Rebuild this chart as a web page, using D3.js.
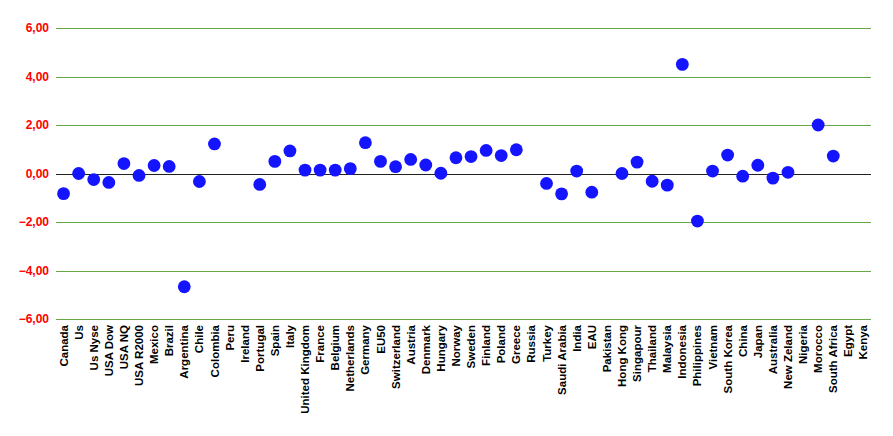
<!DOCTYPE html>
<html><head><meta charset="utf-8">
<script src="https://cdn.jsdelivr.net/npm/d3@7"></script>
<style>body{margin:0;background:#fff}svg{display:block}</style>
</head><body>
<svg id="chart" width="893" height="436"></svg>
<script>
const categories = ["Canada","Us","Us Nyse","USA Dow","USA NQ","USA R2000","Mexico","Brazil","Argentina","Chile","Colombia","Peru","Ireland","Portugal","Spain","Italy","United Kingdom","France","Belgium","Netherlands","Germany","EU50","Switzerland","Austria","Denmark","Hungary","Norway","Sweden","Finland","Poland","Greece","Russia","Turkey","Saudi Arabia","India","EAU","Pakistan","Hong Kong","Singapour","Thailand","Malaysia","Indonesia","Philippines","Vietnam","South Korea","China","Japan","Australia","New Zeland","Nigeria","Morocco","South Africa","Egypt","Kenya"];
const values = [-0.83,0.0,-0.25,-0.37,0.41,-0.08,0.33,0.29,-4.67,-0.33,1.22,null,null,-0.45,0.50,0.93,0.14,0.14,0.14,0.20,1.27,0.50,0.28,0.58,0.35,0.01,0.65,0.70,0.95,0.74,0.98,null,-0.41,-0.84,0.10,-0.77,null,0.0,0.47,-0.32,-0.48,4.50,-1.96,0.10,0.76,-0.11,0.34,-0.19,0.05,null,2.00,0.72,null,null];
const yTicks = [-6,-4,-2,0,2,4,6];

(function () {
const svg = d3.select("#chart");
const mLeft = 56, mRight = 871, mTop = 28, mBottom = 319;
const x = d3.scaleBand().domain(categories).range([mLeft, mRight]);
const y = d3.scaleLinear().domain([-6, 6]).range([mBottom, mTop]);
const fmt = v => d3.format(".2f")(v).replace(".", ",");

// gridlines
svg.append("g").selectAll("line").data(yTicks).join("line")
  .attr("x1", mLeft).attr("x2", mRight)
  .attr("y1", d => Math.round(y(d)) + 0.5).attr("y2", d => Math.round(y(d)) + 0.5)
  .attr("stroke", d => d === 0 ? "#222" : "#66a844").attr("stroke-width", 1);

// y axis labels
const yAxis = d3.axisLeft(y).tickValues(yTicks).tickFormat(fmt).tickSize(0).tickPadding(7);
const gy = svg.append("g").attr("transform", `translate(${mLeft},0)`).call(yAxis);
gy.select(".domain").remove();
gy.selectAll("text").attr("fill", "#ff0000").style("font-family", "Liberation Sans, Arial, sans-serif")
  .style("font-size", "12px").style("font-weight", "bold");

// x axis labels
const xAxis = d3.axisBottom(x).tickSize(0).tickPadding(0);
const gx = svg.append("g").attr("transform", `translate(0,${mBottom})`).call(xAxis);
gx.select(".domain").remove();
gx.selectAll("text")
  .attr("fill", "#000")
  .style("font-family", "Liberation Sans, Arial, sans-serif")
  .style("font-size", "11.5px").style("font-weight", "bold")
  .attr("text-anchor", "end")
  .attr("transform", "rotate(-90)")
  .attr("x", -6).attr("y", 0).attr("dy", "0.35em");

// dots
svg.append("g").selectAll("circle")
  .data(categories.map((c, i) => ({c, v: values[i]})).filter(d => d.v !== null))
  .join("circle")
  .attr("cx", d => x(d.c) + x.bandwidth() / 2)
  .attr("cy", d => y(d.v))
  .attr("r", 6.4)
  .attr("fill", "#1414ff");
})();
</script>
</body></html>
